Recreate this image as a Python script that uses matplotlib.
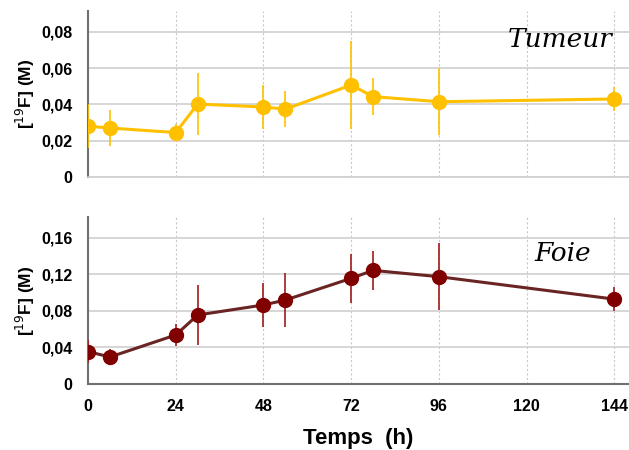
import matplotlib.pyplot as plt

# time points (h)
temps = [0, 6, 24, 30, 48, 54, 72, 78, 96, 144]

# [19F] concentration (M) and error bars
tumeur = [0.028, 0.027, 0.0245, 0.0402, 0.0386, 0.0374, 0.0507, 0.0443, 0.0415, 0.043]
tumeur_err = [0.012, 0.010, 0.0045, 0.017, 0.012, 0.010, 0.024, 0.010, 0.0185, 0.0065]

foie = [0.0355, 0.0296, 0.0537, 0.0756, 0.0866, 0.092, 0.1158, 0.1245, 0.1176, 0.093]
foie_err = [0.013, 0.009, 0.012, 0.033, 0.024, 0.030, 0.027, 0.021, 0.037, 0.0135]

xticks = [0, 24, 48, 72, 96, 120, 144]
yticks_top = [0, 0.02, 0.04, 0.06, 0.08]
yticks_bot = [0, 0.04, 0.08, 0.12, 0.16]

plt.rcParams["font.family"] = ["Liberation Sans", "DejaVu Sans"]


def fmt(v):
    if v == 0:
        return "0"
    return ("%.2f" % v).replace(".", ",")


fig = plt.figure(figsize=(6.29, 4.50), dpi=100)
ax1 = fig.add_axes([88 / 629, 1 - 177 / 450, 541 / 629, 166 / 450])
ax2 = fig.add_axes([88 / 629, 1 - 384 / 450, 541 / 629, 167 / 450])

panels = [
    (ax1, tumeur, tumeur_err, "#FFC000", "#FFC000", "#FFC000", yticks_top, 0.0915, "Tumeur", (0.97, 0.83)),
    (ax2, foie, foie_err, "#6B2424", "#800000", "#9E1B1B", yticks_bot, 0.183, "Foie", (0.93, 0.78)),
]

for ax, vals, err, lc, mc, ec, yt, ymax, name, pos in panels:
    ax.errorbar(temps, vals, yerr=err, fmt="-o", color=lc, mfc=mc, mec=mc,
                ecolor=ec, elinewidth=1.2, lw=2.2, ms=10, capsize=0, zorder=3)
    ax.set_xlim(0, 148)
    ax.set_ylim(0, ymax)
    ax.set_xticks(xticks)
    ax.set_yticks(yt)
    ax.set_yticklabels([fmt(v) for v in yt], fontweight="bold", fontsize=11.5)
    ax.grid(axis="y", color="#d0d0d0", lw=1.2, zorder=0)
    ax.grid(axis="x", color="#c8c8c8", lw=0.8, ls=(0, (2, 2)), zorder=0)
    ax.spines["top"].set_visible(False)
    ax.spines["right"].set_visible(False)
    ax.spines["left"].set_color("#707070")
    ax.spines["left"].set_linewidth(1.5)
    ax.tick_params(length=0, pad=11)
    ax.set_ylabel("[$^{19}$F] (M)", fontweight="bold", fontsize=12.5, labelpad=3)
    ax.text(pos[0], pos[1], name, transform=ax.transAxes, ha="right", va="center",
            fontsize=19, style="italic", family="DejaVu Serif")

ax1.spines["bottom"].set_color("#d0d0d0")
ax1.spines["bottom"].set_linewidth(1.2)
ax1.set_xticklabels([])
ax2.spines["bottom"].set_color("#707070")
ax2.spines["bottom"].set_linewidth(1.5)
ax2.set_xticklabels([str(t) for t in xticks], fontweight="bold", fontsize=11.5)
ax2.set_xlabel("Temps  (h)", fontweight="bold", fontsize=16, labelpad=10)

fig.savefig("out.png", dpi=100)
